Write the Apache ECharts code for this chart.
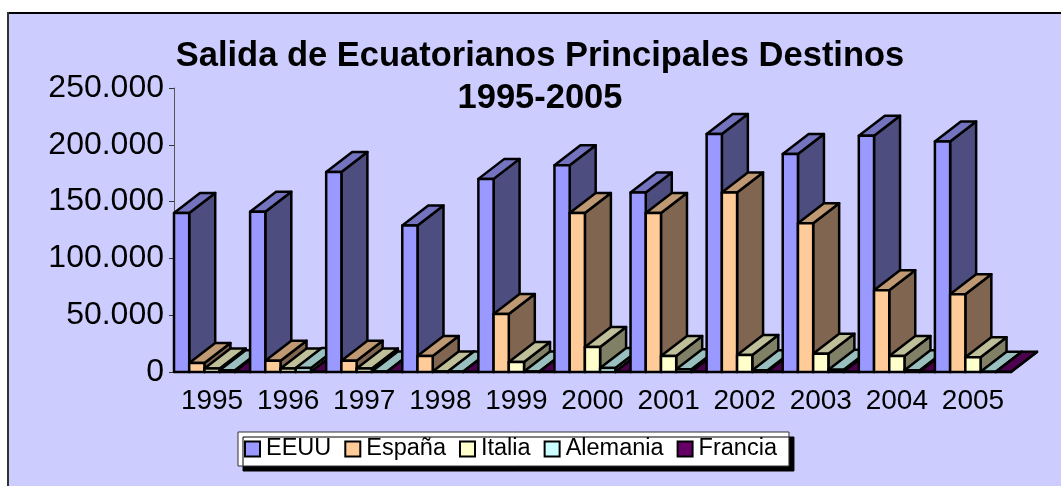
<!DOCTYPE html>
<html><head><meta charset="utf-8">
<style>html,body{margin:0;padding:0;background:#fff}#c{width:1061px;height:486px}</style>
<script src="https://cdn.jsdelivr.net/npm/echarts@6/dist/echarts.min.js"></script>
</head><body><div id="c"></div>
<script>
const years = ['1995','1996','1997','1998','1999','2000','2001','2002','2003','2004','2005'];
const seriesNames = ['EEUU','España','Italia','Alemania','Francia'];
const eeuu     = [140000,141000,176000,129000,170000,182000,158000,209500,192000,208000,203000];
const espana   = [8000,10000,10000,14000,51000,140000,140000,158000,131000,72000,68500];
const italia   = [3000,3000,3000,500,8800,22000,14000,15000,16000,14000,13000];
const alemania = [1500,3500,500,500,500,3500,2500,1500,2000,1500,300];
const francia  = [300,300,300,300,300,300,300,300,300,300,300];
const values = [eeuu,espana,italia,alemania,francia];
const front = ['#9999FF','#FFCC99','#FFFFCC','#CCFFFF','#660066'];
const top_  = ['#7373BF','#BF9973','#BFBF99','#99BFBF','#4D004D'];
const side  = ['#4D4D80','#806650','#808066','#668080','#330033'];
const DX = 26, DY = -20, LW = 2.5;

function render(si){
  return function(params, api){
    const cat = api.value(0), v = api.value(1);
    const band = api.size([1,0])[0];
    const w = band/5;
    const c = api.coord([cat, v]);
    const b = api.coord([cat, 0]);
    const x0 = c[0]-band/2 + si*w, x1 = x0+w, yt = c[1], yb = b[1];
    const z2 = cat*10+si;
    const line = {stroke:'#000', lineWidth:LW, lineJoin:'round'};
    const poly = (pts,fill,z)=>({type:'polygon',z2:z,shape:{points:pts},style:Object.assign({fill},line)});
    return {type:'group',children:[
      poly([[x1,yb],[x1+DX,yb+DY],[x1+DX,yt+DY],[x1,yt]],side[si],z2),
      poly([[x0,yt],[x0+DX,yt+DY],[x1+DX,yt+DY],[x1,yt]],top_[si],z2),
      poly([[x0,yb],[x0,yt],[x1,yt],[x1,yb]],front[si],z2)
    ]};
  };
}

const chart = echarts.init(document.getElementById('c'),null,{renderer:'canvas'});
chart.setOption({
  animation:false,
  graphic:[
    {type:'rect',z:-10,silent:true,shape:{x:8,y:13,width:1060,height:480},style:{fill:'#CCCCFF'}},
    {type:'line',z:-9,silent:true,shape:{x1:7,y1:13,x2:1061,y2:13},style:{stroke:'#000',lineWidth:2}},
    {type:'line',z:-9,silent:true,shape:{x1:8,y1:12,x2:8,y2:486},style:{stroke:'#333',lineWidth:2}}
  ],
  title:{text:'Salida de Ecuatorianos Principales Destinos\n1995-2005',left:535,top:30,textAlign:'center',
    textStyle:{fontFamily:'Liberation Sans',fontWeight:'bold',fontSize:34.5,lineHeight:42,color:'#000'}},
  legend:{data:seriesNames,left:238,top:432,orient:'horizontal',icon:'rect',itemWidth:15,itemHeight:15,itemGap:13,
    padding:[5,12,5,6],backgroundColor:'#fff',borderColor:'#333',borderWidth:1,
    shadowColor:'#000',shadowBlur:0,shadowOffsetX:5,shadowOffsetY:5,
    itemStyle:{borderColor:'#000',borderWidth:2},
    textStyle:{fontFamily:'Liberation Sans',fontSize:23.5,color:'#000',padding:[5,0,0,1]}},
  grid:{left:174,top:88,width:837,height:284,containLabel:false},
  xAxis:{type:'category',data:years,axisLine:{lineStyle:{color:'#000',width:2}},axisTick:{show:false},
    axisLabel:{fontFamily:'Liberation Sans',fontSize:28,color:'#000',margin:15,interval:0}},
  yAxis:{type:'value',min:0,max:250000,interval:50000,splitLine:{show:false},
    axisLine:{show:true,lineStyle:{color:'#555',width:1}},axisTick:{show:true,length:5,lineStyle:{color:'#333'}},
    axisLabel:{fontFamily:'Liberation Sans',fontSize:32,color:'#000',margin:10,
      formatter:v=>String(v).replace(/\B(?=(\d{3})+$)/g,'.')}},
  series:seriesNames.map((n,si)=>({
    name:n,type:'custom',renderItem:render(si),clip:false,
    itemStyle:{color:front[si]},
    encode:{x:0,y:1},
    data:values[si].map((v,i)=>[i,v])
  }))
});
</script></body></html>
